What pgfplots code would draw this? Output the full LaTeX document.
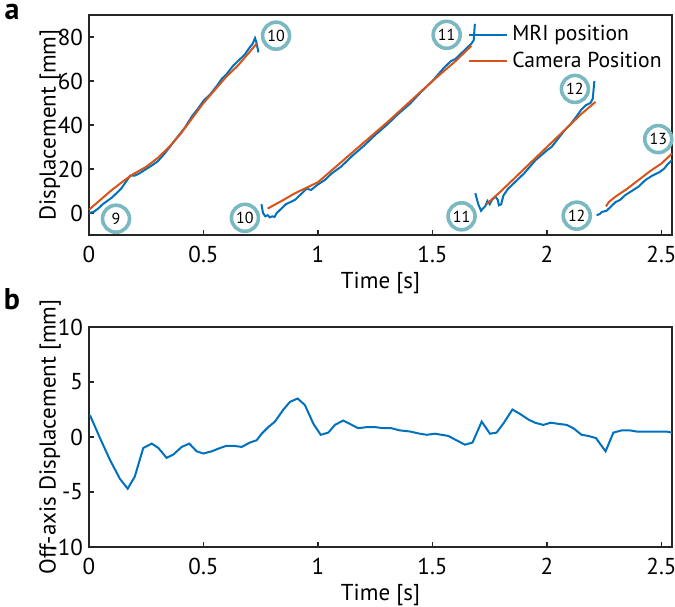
\documentclass[border=0pt]{standalone}
\usepackage{fontspec}
\setmainfont{PT Sans}
\usepackage{pgfplots}
\pgfplotsset{compat=1.18}
\definecolor{mriblue}{RGB}{0,114,189}
\definecolor{camorange}{RGB}{217,83,25}
\definecolor{circ}{RGB}{122,184,194}

\pgfplotsset{
  panel/.style={
    scale only axis, width=291.5pt, height=110pt,
    axis line style={line width=1pt, black!85},
    tick style={line width=0.8pt, black!85},
    tick align=inside, major tick length=2.5pt,
    xtick pos=bottom, ytick pos=left,
    xmin=0, xmax=2.546,
    xtick={0,0.5,...,2.5},
    tick label style={font=\fontsize{11.5}{13}\selectfont},
    /pgf/number format/assume math mode=true,
    xticklabel style={yshift=-2pt},
    yticklabel style={xshift=0.5pt},
    label style={font=\fontsize{11.5}{13}\selectfont},
    xlabel style={at={(axis description cs:0.5,0)}, anchor=center, yshift=-24pt},
    ylabel style={at={(axis description cs:-0.036,0.5)}, anchor=south},
    clip=false,
    unbounded coords=jump,
  },
}
\tikzset{
  num/.style={circle, draw=circ, line width=1.8pt, minimum size=13.5pt, inner sep=0pt,
    font=\fontsize{8}{9}\selectfont},
}

\begin{document}
\begin{tikzpicture}
\useasboundingbox (-44.5pt,7.5pt) rectangle (293pt,-295.5pt);

% panel a
\begin{axis}[panel, at={(0,0)}, anchor=north west,
  ymin=-10, ymax=90, ytick={0,20,...,80},
  xlabel={Time [s]}, ylabel={Displacement [mm]},
  legend style={draw=none, fill=none, at={(1,1)}, anchor=north east,
    xshift=-3pt, yshift=-3pt, font=\fontsize{10.8}{12}\selectfont,
    row sep=0pt, inner sep=0pt},
  legend cell align=left,
  legend image code/.code={\draw[#1] (0pt,0pt) -- (19pt,0pt);},
]
\addplot[mriblue, line width=1pt] coordinates {
(0,0) (0.02,0.5) (0.04,2) (0.06,4) (0.08,5.5) (0.1,7) (0.12,9) (0.14,11) (0.16,14)
(0.18,17) (0.2,17) (0.22,18) (0.25,20) (0.28,22) (0.3,23.5) (0.33,27) (0.36,31)
(0.39,35) (0.42,39) (0.45,44) (0.48,48) (0.5,51) (0.53,54) (0.56,58) (0.58,61)
(0.6,63) (0.63,67) (0.66,70) (0.68,72) (0.7,75) (0.715,77) (0.725,79.5) (0.73,78) (0.74,73)
(0.745,nan)
(0.753,4) (0.76,0) (0.77,-1.5) (0.78,-1) (0.79,-2) (0.8,-1.5) (0.81,-1.8) (0.82,0)
(0.84,2) (0.86,4) (0.88,5) (0.9,6) (0.92,8) (0.95,11) (0.97,10.5) (1.0,13) (1.03,15)
(1.06,18) (1.1,21) (1.15,26) (1.2,30.5) (1.25,35.5) (1.3,40) (1.35,45) (1.4,49.5) (1.45,55)
(1.5,60) (1.55,66) (1.58,69) (1.6,70) (1.63,73) (1.65,75) (1.67,77) (1.68,78.5) (1.685,86)
(1.686,nan)
(1.687,9) (1.70,4) (1.712,1) (1.72,2) (1.73,3) (1.74,5.5) (1.75,4) (1.76,6) (1.775,7.5)
(1.785,6) (1.79,3.5) (1.8,4) (1.81,8) (1.83,11) (1.86,14) (1.9,18) (1.95,24) (2.0,28.5)
(2.02,30) (2.05,34) (2.08,38) (2.1,40) (2.13,44) (2.15,47) (2.17,49) (2.19,50) (2.2,52) (2.207,60)
(2.21,nan)
(2.217,-1) (2.23,-0.5) (2.24,0.5) (2.26,1) (2.28,3) (2.3,5) (2.32,6) (2.34,8) (2.37,10)
(2.4,12) (2.43,15) (2.46,17) (2.49,18.5) (2.51,20) (2.53,22.5) (2.546,24)
};
\addlegendentry{MRI position}
\addplot[camorange, line width=1pt] coordinates {
(0,1.5) (0.05,6) (0.1,10.5) (0.15,14.5) (0.19,17.5) (0.25,21) (0.3,25) (0.35,30)
(0.4,36) (0.45,43) (0.5,50) (0.55,56) (0.6,62) (0.65,67) (0.7,73) (0.732,77)
(0.75,nan)
(0.78,2) (0.85,6) (0.9,9) (0.95,11.5) (1.0,14) (1.05,18.5) (1.1,23) (1.2,32) (1.3,41)
(1.4,50.5) (1.5,60) (1.6,69) (1.67,76)
(1.7,nan)
(1.736,4) (1.8,10) (1.9,20) (2.0,30) (2.05,35) (2.1,40) (2.15,45) (2.212,50.5)
(2.23,nan)
(2.258,3) (2.27,5) (2.3,7.5) (2.35,11) (2.4,15) (2.45,19) (2.5,22.5) (2.546,27)
};
\addlegendentry{Camera Position}
\node[num] at (axis cs:0.118,-2.6) {9};
\node[num] at (axis cs:0.817,80.6) {10};
\node[num] at (axis cs:0.681,-2.2) {10};
\node[num] at (axis cs:1.562,81) {11};
\node[num] at (axis cs:1.627,-1.5) {11};
\node[num] at (axis cs:2.122,56.4) {12};
\node[num] at (axis cs:2.13,-1.2) {12};
\node[num] at (axis cs:2.486,33.6) {13};
\end{axis}
\node[font=\bfseries\fontsize{15}{16}\selectfont] at (-38.5pt,1.5pt) {a};

% panel b
\begin{axis}[panel, at={(0,-156pt)}, anchor=north west,
  ymin=-10, ymax=10, ytick={-10,-5,0,5,10},
  xlabel={Time [s]}, ylabel={Off-axis Displacement [mm]},
]
\addplot[mriblue, line width=1pt] coordinates {
(0.004,2.0) (0.048,-0.1) (0.092,-2.1) (0.135,-3.8) (0.169,-4.7) (0.2,-3.6) (0.237,-1.0)
(0.274,-0.6) (0.303,-1.0) (0.339,-1.9) (0.368,-1.6) (0.405,-0.9) (0.438,-0.6) (0.47,-1.3)
(0.499,-1.5) (0.536,-1.3) (0.572,-1.0) (0.601,-0.8) (0.63,-0.8) (0.667,-0.9) (0.703,-0.5)
(0.732,-0.3) (0.754,0.3) (0.783,0.9) (0.812,1.4) (0.849,2.5) (0.878,3.2) (0.911,3.5)
(0.943,2.9) (0.98,1.2) (1.012,0.2) (1.045,0.4) (1.074,1.1) (1.11,1.5) (1.176,0.8)
(1.213,0.9) (1.25,0.9) (1.285,0.8) (1.32,0.8) (1.358,0.6) (1.402,0.5) (1.445,0.3)
(1.475,0.2) (1.511,0.3) (1.54,0.2) (1.569,0.1) (1.605,-0.3) (1.642,-0.7) (1.675,-0.5)
(1.715,1.4) (1.751,0.3) (1.78,0.4) (1.812,1.3) (1.849,2.5) (1.882,2.1) (1.918,1.6)
(1.948,1.3) (1.984,1.1) (2.016,1.3) (2.049,1.2) (2.086,1.1) (2.115,0.8) (2.151,0.2)
(2.18,0.1) (2.214,-0.1) (2.256,-1.3) (2.29,0.4) (2.326,0.6) (2.362,0.6) (2.391,0.5)
(2.427,0.5) (2.456,0.5) (2.492,0.5) (2.52,0.5) (2.546,0.4)
};
\end{axis}
\node[font=\bfseries\fontsize{15}{16}\selectfont] at (-38.5pt,-142pt) {b};
\end{tikzpicture}
\end{document}
